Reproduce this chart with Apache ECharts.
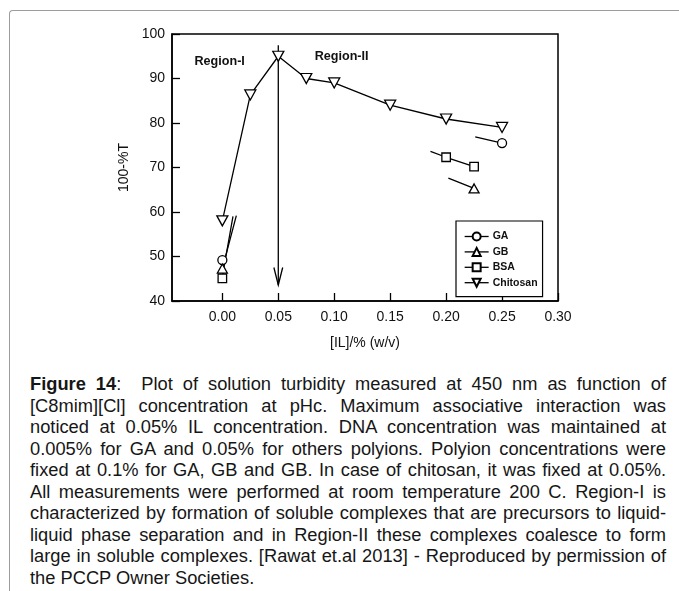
<!DOCTYPE html>
<html>
<head>
<meta charset="utf-8">
<title>Turbidity vs [IL]</title>
<script src="https://cdn.jsdelivr.net/npm/echarts@6/dist/echarts.min.js"></script>
<style>
  html, body { margin: 0; padding: 0; background: #fff; }
  #wrap { position: relative; width: 679px; height: 591px; overflow: hidden; }
  #frame { position: absolute; left: 9px; top: 10px; width: 720px; height: 640px;
           border-top: 1.5px solid #9c9c9c; border-left: 1.5px solid #9c9c9c;
           border-top-left-radius: 4px; }
  #chart { position: absolute; left: 0; top: 0; width: 679px; height: 360px; }
  #caption { position: absolute; left: 30px; top: 373px; width: 636px;
             font-family: 'Liberation Sans', Arial, sans-serif;
             font-size: 18.3px; line-height: 21.5px; color: #161616; }
  #caption .j { text-align: justify; text-align-last: justify; }
  #caption b { font-weight: bold; }
</style>
</head>
<body>
<div id="wrap">
  <div id="frame"></div>
  <div id="chart"></div>
  <div id="caption">
    <div class="j"><b>Figure 14</b>:&nbsp; Plot of solution turbidity measured at 450 nm as function of</div>
    <div class="j">[C8mim][Cl] concentration at pHc. Maximum associative interaction was</div>
    <div class="j">noticed at 0.05% IL concentration. DNA concentration was maintained at</div>
    <div class="j">0.005% for GA and 0.05% for others polyions. Polyion concentrations were</div>
    <div class="j">fixed at 0.1% for GA, GB and GB. In case of chitosan, it was fixed at 0.05%.</div>
    <div class="j">All measurements were performed at room temperature 200 C. Region-I is</div>
    <div class="j">characterized by formation of soluble complexes that are precursors to liquid-</div>
    <div class="j">liquid phase separation and in Region-II these complexes coalesce to form</div>
    <div class="j">large in soluble complexes. [Rawat et.al 2013] - Reproduced by permission of</div>
    <div>the PCCP Owner Societies.</div>
  </div>
</div>
<script>
// ---- measured turbidity (100-%T) vs [IL] (% w/v) ----
const gaX = [0.000, 0.250];
const gaY = [49.2, 75.5];
const gbX = [0.000, 0.225];
const gbY = [47.3, 65.3];
const bsaX = [0.000, 0.200, 0.225];
const bsaY = [45.1, 72.3, 70.2];
const chitosanX = [0.000, 0.025, 0.050, 0.075, 0.100, 0.150, 0.200, 0.250];
const chitosanY = [58.0, 86.3, 95.0, 90.0, 89.0, 84.0, 80.9, 79.0];

// connecting traces (partial segments between runs), as [x, y] runs
const gaTrace = [[[0.226, 76.9], [0.250, 75.5]]];
const gbTrace = [[[0.000, 47.3], [0.0125, 59.2]], [[0.202, 67.6], [0.225, 65.3]]];
const bsaTrace = [[[0.000, 45.5], [0.0095, 59.0]], [[0.186, 73.6], [0.200, 72.3]], [[0.200, 72.3], [0.225, 70.2]]];

// axis ticks
const xTicks = [0.00, 0.05, 0.10, 0.15, 0.20, 0.25, 0.30];
const yTicks = [40, 50, 60, 70, 80, 90, 100];

// annotations
const arrowX = 0.05, arrowTop = 97.5, arrowTip = 43.6;
const regionNames = ['Region-I', 'Region-II'];
const regionX = [-0.0024, 0.1066];
const regionY = [93.9, 94.9];

const FONT = "'Liberation Sans', Arial, sans-serif";
const INK = '#111';

const zip = (xs, ys) => xs.map((x, i) => [x, ys[i]]);
// join runs into one polyline with gaps between them
const joinRuns = runs => {
  const out = [];
  runs.forEach((r, i) => { if (i) out.push(['-', '-']); r.forEach(p => out.push(p)); });
  return out;
};

const traceSeries = data => ({
  type: 'line', data, symbol: 'none', silent: true, z: 2,
  lineStyle: { color: '#000', width: 1.3 }, connectNulls: false
});

const markerSeries = (name, data, symbol, size, rotate) => ({
  name, type: 'line', data, symbol, symbolSize: size, symbolRotate: rotate || 0,
  showSymbol: true, z: 4,
  lineStyle: { width: 0, color: '#000' },
  itemStyle: { color: '#fff', borderColor: '#000', borderWidth: 1.3 }
});

const chart = echarts.init(document.getElementById('chart'), null, { renderer: 'canvas' });

chart.setOption({
  animation: false,
  backgroundColor: 'transparent',
  grid: { left: 172, top: 34, width: 386, height: 267, show: true,
          borderColor: '#000', borderWidth: 1.5, backgroundColor: 'transparent' },
  xAxis: {
    type: 'value', min: -0.045, max: 0.30,
    name: '[IL]/% (w/v)', nameLocation: 'middle', nameGap: 35,
    nameTextStyle: { fontFamily: FONT, fontSize: 14, color: INK },
    axisLine: { show: true, onZero: false, lineStyle: { color: '#000', width: 1.5 } },
    axisTick: { show: true, inside: true, length: 8, customValues: xTicks,
                lineStyle: { color: '#000', width: 1.3 } },
    axisLabel: { show: true, customValues: xTicks, margin: 9,
                 fontFamily: FONT, fontSize: 14, color: INK,
                 formatter: v => v.toFixed(2) },
    splitLine: { show: false }
  },
  yAxis: {
    type: 'value', min: 40, max: 100, interval: 10,
    name: '100-%T', nameLocation: 'middle', nameGap: 40,
    nameTextStyle: { fontFamily: FONT, fontSize: 14, color: INK },
    axisLine: { show: true, onZero: false, lineStyle: { color: '#000', width: 1.5 } },
    axisTick: { show: true, inside: true, length: 8, customValues: yTicks,
                lineStyle: { color: '#000', width: 1.3 } },
    axisLabel: { show: true, customValues: yTicks, margin: 7,
                 fontFamily: FONT, fontSize: 14, color: INK },
    splitLine: { show: false }
  },
  legend: {
    orient: 'vertical', left: 456, top: 221,
    data: ['GA', 'GB', 'BSA', 'Chitosan'],
    padding: [10, 5, 8.5, 8], itemGap: 4.4, itemWidth: 24, itemHeight: 10,
    borderColor: '#000', borderWidth: 1.2, backgroundColor: '#fff',
    lineStyle: { width: 1.3, color: '#000' },
    textStyle: { fontFamily: FONT, fontSize: 10.5, fontWeight: 'bold', color: INK, padding: [0, 0, 0, -1] },
    selectedMode: false
  },
  series: [
    traceSeries(zip(chitosanX, chitosanY)),
    traceSeries(joinRuns(gaTrace)),
    traceSeries(joinRuns(gbTrace)),
    traceSeries(joinRuns(bsaTrace)),
    // the 0.05% marker arrow
    {
      type: 'custom', silent: true, z: 3,
      data: [[arrowX, arrowTop, arrowTip]],
      renderItem: (params, api) => {
        const top = api.coord([api.value(0), api.value(1)]);
        const tip = api.coord([api.value(0), api.value(2)]);
        const style = { stroke: '#000', lineWidth: 1.3, fill: null };
        return {
          type: 'group',
          children: [
            { type: 'line', shape: { x1: top[0], y1: top[1], x2: tip[0], y2: tip[1] }, style },
            { type: 'polyline', shape: { points: [[tip[0] - 4.4, tip[1] - 17.5], [tip[0], tip[1]], [tip[0] + 4.4, tip[1] - 17.5]] }, style }
          ]
        };
      }
    },
    // region captions
    {
      type: 'custom', silent: true, z: 5,
      data: regionNames.map((n, i) => [regionX[i], regionY[i], i]),
      renderItem: (params, api) => {
        const p = api.coord([api.value(0), api.value(1)]);
        return {
          type: 'text', x: p[0], y: p[1],
          style: { text: regionNames[api.value(2)], fill: INK, align: 'center', verticalAlign: 'middle',
                   font: 'bold 12.6px ' + FONT }
        };
      }
    },
    markerSeries('GA', zip(gaX, gaY), 'circle', 9),
    markerSeries('GB', zip(gbX, gbY), 'triangle', [10, 9]),
    markerSeries('BSA', zip(bsaX, bsaY), 'rect', 8.5),
    markerSeries('Chitosan', zip(chitosanX, chitosanY), 'triangle', [11, 10], 180)
  ]
});
</script>
</body>
</html>
